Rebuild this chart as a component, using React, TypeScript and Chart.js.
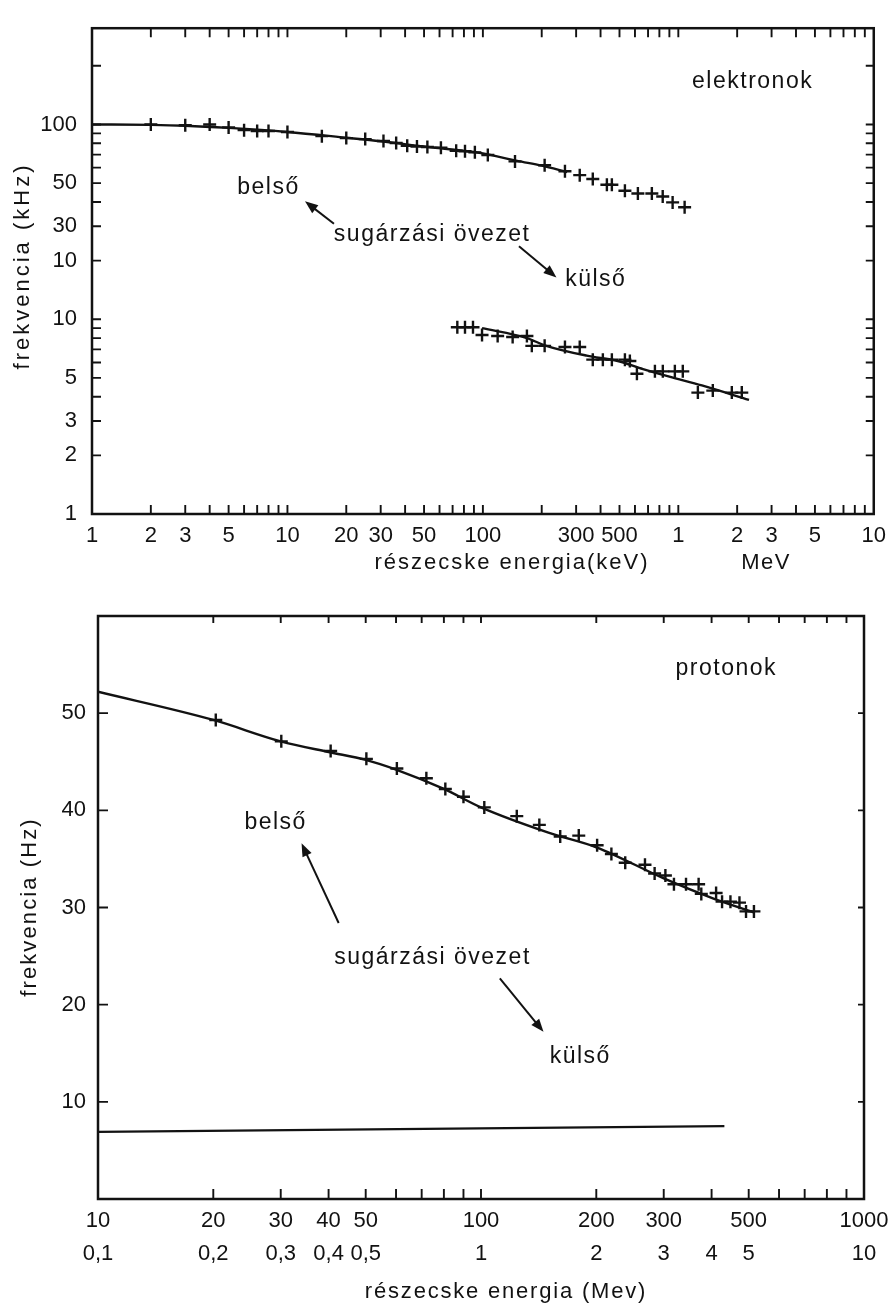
import React, { useEffect, useRef } from 'react';
import { Chart, registerables } from 'chart.js';

Chart.register(...registerables);

const INK = '#121212';
const FONT = "'Liberation Sans', Arial, 'DejaVu Sans', sans-serif";

// ---------------- top panel: elektronok ----------------
const topXTicks = [1, 2, 3, 5, 10, 20, 30, 50, 100, 300, 500, 1000, 2000, 3000, 5000, 10000];
const topXLabels = ['1', '2', '3', '5', '10', '20', '30', '50', '100', '300', '500', '1', '2', '3', '5', '10'];
const topYTicks = [1, 2, 3, 5, 10, 20, 30, 50, 100];
const topYLabels = ['1', '2', '3', '5', '10', '10', '30', '50', '100'];
const topXMinor = [2, 3, 4, 5, 6, 7, 8, 9, 10, 20, 30, 40, 50, 60, 70, 80, 90, 100, 200, 300, 400, 500, 600, 700, 800, 900, 1000, 2000, 3000, 4000, 5000, 6000, 7000, 8000, 9000];
const topYMinor = [2, 3, 4, 5, 6, 7, 8, 9, 10, 20, 30, 40, 50, 60, 70, 80, 90, 100, 200];

// belső (inner belt) electrons: keV -> kHz
const innerX = [2, 3, 4, 5, 6, 7, 8, 10, 15, 20, 25, 31, 36, 41, 46, 52, 61, 73, 81, 91, 106, 146, 207, 263, 313, 365, 431, 457, 533, 621, 732, 832, 935, 1077];
const innerY = [100, 99, 100, 96.6, 93.5, 92.5, 92.5, 91.4, 87.1, 85.1, 84.1, 82.2, 80.3, 77.8, 77.0, 76.6, 75.9, 73.3, 72.8, 71.9, 69.7, 64.6, 61.7, 57.5, 54.9, 52.5, 49, 49, 45.7, 44.2, 44.2, 42.7, 39.8, 37.6];
const innerCurveX = [1, 2, 3, 5, 10, 20, 30, 50, 100, 150, 200, 270];
const innerCurveY = [100, 99.5, 98.5, 96, 91.5, 85.5, 82, 77, 71, 65, 61.5, 57];

// külső (outer belt) electrons
const outerX = [74, 81, 89, 99, 119, 142, 168, 178, 207, 263, 313, 365, 411, 457, 533, 565, 614, 759, 833, 960, 1054, 1259, 1501, 1878, 2112];
const outerY = [9.1, 9.1, 9.1, 8.3, 8.2, 8.1, 8.2, 7.3, 7.3, 7.2, 7.2, 6.2, 6.2, 6.2, 6.2, 6.1, 5.25, 5.4, 5.4, 5.4, 5.4, 4.2, 4.3, 4.2, 4.2];
const outerCurveX = [99, 168, 207, 340, 490, 660, 900, 1320, 2300];
const outerCurveY = [9.0, 8.0, 7.35, 6.5, 6.1, 5.55, 5.07, 4.57, 3.85];

const topNoteText = ['elektronok', 'belső', 'sugárzási övezet', 'külső'];
const topNoteX = [2400, 8, 55, 378];
const topNoteY = [166, 47.3, 27.2, 16.0];
const topArrowFromX = [17.3, 153];
const topArrowFromY = [30.9, 23.7];
const topArrowToX = [12.3, 238];
const topArrowToY = [40.3, 16.4];

// ---------------- bottom panel: protonok ----------------
const botXTicks = [10, 20, 30, 40, 50, 100, 200, 300, 400, 500, 1000];
const botXLabelsRow1 = ['10', '20', '30', '40', '50', '100', '200', '300', '', '500', '1000'];
const botXLabelsRow2 = ['0,1', '0,2', '0,3', '0,4', '0,5', '1', '2', '3', '4', '5', '10'];
const botYTicks = [10, 20, 30, 40, 50];
const botYLabels = ['10', '20', '30', '40', '50'];
const botXMinor = [20, 30, 40, 50, 60, 70, 80, 90, 100, 200, 300, 400, 500, 600, 700, 800, 900];
const botYMinor = [10, 20, 30, 40, 50];

const protonX = [20.3, 30.1, 40.5, 50.2, 60.3, 72, 80.7, 90, 102, 124, 142, 161, 180, 201, 219, 238, 268, 284, 303, 319, 343, 370, 376, 411, 426, 448, 473, 492, 516];
const protonY = [49.3, 47.1, 46.1, 45.3, 44.3, 43.3, 42.2, 41.4, 40.3, 39.4, 38.5, 37.3, 37.4, 36.4, 35.5, 34.6, 34.4, 33.5, 33.3, 32.4, 32.4, 32.4, 31.4, 31.5, 30.6, 30.6, 30.5, 29.6, 29.6];
const protonCurveX = [10, 20, 30, 40, 50, 60, 80, 100, 150, 200, 300, 400, 515];
const protonCurveY = [52.2, 49.3, 47.1, 46.0, 45.2, 44.2, 42.2, 40.3, 37.7, 36.2, 33.0, 31.0, 29.5];
const flatX = [10, 432];
const flatY = [6.9, 7.5];

const botNoteText = ['protonok', 'belső', 'sugárzási övezet', 'külső'];
const botNoteX = [437, 29.1, 74.7, 181.6];
const botNoteY = [54.6, 38.7, 24.8, 14.6];
const botArrowFromX = [42.5, 112];
const botArrowFromY = [28.4, 22.7];
const botArrowToX = [34, 145.6];
const botArrowToY = [36.6, 17.2];

const pts = (xs: number[], ys: number[]) => xs.map((x, i) => ({ x, y: ys[i] }));

function drawArrow(ctx: any, x1: number, y1: number, x2: number, y2: number) {
  const ang = Math.atan2(y2 - y1, x2 - x1);
  const L = 13;
  const W = 5;
  const c = Math.cos(ang);
  const s = Math.sin(ang);
  ctx.beginPath();
  ctx.moveTo(x1, y1);
  ctx.lineTo(x2 - c * L * 0.6, y2 - s * L * 0.6);
  ctx.stroke();
  ctx.beginPath();
  ctx.moveTo(x2, y2);
  ctx.lineTo(x2 - L * c + W * s, y2 - L * s - W * c);
  ctx.lineTo(x2 - L * c - W * s, y2 - L * s + W * c);
  ctx.closePath();
  ctx.fill();
}

type Title = { text: string; x: number; y: number; rotate?: boolean; spacing: number };

function decor(opts: {
  xMinor: number[];
  yMinor: number[];
  tickBottom: number;
  tickTop: number;
  tickLeft: number;
  tickRight: number;
  notes: { text: string[]; x: number[]; y: number[] };
  arrows: { fx: number[]; fy: number[]; tx: number[]; ty: number[] };
  titles: Title[];
}) {
  return {
    id: 'decor',
    afterDraw(chart: any) {
      const { ctx, chartArea: a, scales } = chart;
      const sx = scales.x;
      const sy = scales.y;
      ctx.save();
      ctx.strokeStyle = INK;
      ctx.fillStyle = INK;
      ctx.lineCap = 'butt';
      ctx.lineWidth = 2.5;
      ctx.strokeRect(a.left, a.top, a.right - a.left, a.bottom - a.top);
      ctx.lineWidth = 1.9;
      ctx.beginPath();
      for (const v of opts.xMinor) {
        const px = sx.getPixelForValue(v);
        ctx.moveTo(px, a.bottom);
        ctx.lineTo(px, a.bottom - opts.tickBottom);
        ctx.moveTo(px, a.top);
        ctx.lineTo(px, a.top + opts.tickTop);
      }
      for (const v of opts.yMinor) {
        const py = sy.getPixelForValue(v);
        ctx.moveTo(a.left, py);
        ctx.lineTo(a.left + opts.tickLeft, py);
        ctx.moveTo(a.right, py);
        ctx.lineTo(a.right - opts.tickRight, py);
      }
      ctx.stroke();

      ctx.font = `23px ${FONT}`;
      ctx.textAlign = 'center';
      ctx.textBaseline = 'middle';
      (ctx as any).letterSpacing = '1.5px';
      opts.notes.text.forEach((t, i) => {
        ctx.fillText(t, sx.getPixelForValue(opts.notes.x[i]), sy.getPixelForValue(opts.notes.y[i]));
      });
      ctx.lineWidth = 2;
      opts.arrows.fx.forEach((_, i) => {
        drawArrow(
          ctx,
          sx.getPixelForValue(opts.arrows.fx[i]),
          sy.getPixelForValue(opts.arrows.fy[i]),
          sx.getPixelForValue(opts.arrows.tx[i]),
          sy.getPixelForValue(opts.arrows.ty[i])
        );
      });

      for (const t of opts.titles) {
        ctx.save();
        (ctx as any).letterSpacing = `${t.spacing}px`;
        ctx.font = `22px ${FONT}`;
        ctx.translate(t.x, t.y);
        if (t.rotate) ctx.rotate(-Math.PI / 2);
        ctx.fillText(t.text, 0, 0);
        ctx.restore();
      }
      ctx.restore();
    },
  };
}

const tickFont = { family: FONT, size: 22 };

function makeTop(canvas: HTMLCanvasElement) {
  return new Chart(canvas, {
    type: 'scatter',
    data: {
      datasets: [
        {
          data: pts(innerX, innerY),
          pointStyle: 'cross',
          pointRadius: 6.5,
          borderWidth: 2.4,
          borderColor: INK,
          backgroundColor: INK,
        },
        {
          data: pts(outerX, outerY),
          pointStyle: 'cross',
          pointRadius: 6.5,
          borderWidth: 2.4,
          borderColor: INK,
          backgroundColor: INK,
        },
        {
          data: pts(innerCurveX, innerCurveY),
          showLine: true,
          pointRadius: 0,
          borderWidth: 2.4,
          borderColor: INK,
          cubicInterpolationMode: 'monotone',
        },
        {
          data: pts(outerCurveX, outerCurveY),
          showLine: true,
          pointRadius: 0,
          borderWidth: 2.4,
          borderColor: INK,
          cubicInterpolationMode: 'monotone',
        },
      ],
    } as any,
    options: {
      responsive: false,
      animation: false,
      events: [],
      layout: { padding: { top: 15, right: 19, left: 0, bottom: 0 } },
      plugins: { legend: { display: false }, tooltip: { enabled: false } },
      scales: {
        x: {
          type: 'logarithmic',
          min: 1,
          max: 10000,
          afterFit: (s: any) => {
            s.height = 76;
          },
          afterBuildTicks: (s: any) => {
            s.ticks = topXTicks.map((v) => ({ value: v }));
          },
          ticks: {
            autoSkip: false,
            maxRotation: 0,
            minRotation: 0,
            padding: 9,
            color: INK,
            font: tickFont,
            callback: (_v: any, i: number) => topXLabels[i],
          },
          grid: { display: false, drawTicks: false },
          border: { display: false },
        },
        y: {
          type: 'logarithmic',
          min: 1,
          max: 312,
          afterFit: (s: any) => {
            s.width = 92;
          },
          afterBuildTicks: (s: any) => {
            s.ticks = topYTicks.map((v) => ({ value: v }));
          },
          ticks: {
            autoSkip: false,
            padding: 15,
            color: INK,
            font: tickFont,
            callback: (_v: any, i: number) => topYLabels[i],
          },
          grid: { display: false, drawTicks: false },
          border: { display: false },
        },
      },
    } as any,
    plugins: [
      decor({
        xMinor: topXMinor,
        yMinor: topYMinor,
        tickBottom: 9,
        tickTop: 9,
        tickLeft: 9,
        tickRight: 8,
        notes: { text: topNoteText, x: topNoteX, y: topNoteY },
        arrows: { fx: topArrowFromX, fy: topArrowFromY, tx: topArrowToX, ty: topArrowToY },
        titles: [
          { text: 'frekvencia (kHz)', x: 23, y: 266, rotate: true, spacing: 3 },
          { text: 'részecske energia(keV)', x: 512, y: 563, spacing: 2 },
          { text: 'MeV', x: 766, y: 563, spacing: 1.5 },
        ],
      }),
    ],
  });
}

function makeBottom(canvas: HTMLCanvasElement) {
  return new Chart(canvas, {
    type: 'scatter',
    data: {
      datasets: [
        {
          data: pts(protonX, protonY),
          pointStyle: 'cross',
          pointRadius: 6.5,
          borderWidth: 2.4,
          borderColor: INK,
          backgroundColor: INK,
        },
        {
          data: pts(protonCurveX, protonCurveY),
          showLine: true,
          pointRadius: 0,
          borderWidth: 2.4,
          borderColor: INK,
          cubicInterpolationMode: 'monotone',
        },
        {
          data: pts(flatX, flatY),
          showLine: true,
          pointRadius: 0,
          borderWidth: 2.2,
          borderColor: INK,
        },
      ],
    } as any,
    options: {
      responsive: false,
      animation: false,
      events: [],
      layout: { padding: { top: 26, right: 31, left: 0, bottom: 0 } },
      plugins: { legend: { display: false }, tooltip: { enabled: false } },
      scales: {
        x: {
          type: 'logarithmic',
          min: 10,
          max: 1000,
          afterFit: (s: any) => {
            s.height = 109;
          },
          afterBuildTicks: (s: any) => {
            s.ticks = botXTicks.map((v) => ({ value: v }));
          },
          ticks: {
            autoSkip: false,
            maxRotation: 0,
            minRotation: 0,
            padding: 5,
            color: INK,
            font: { family: FONT, size: 22, lineHeight: 1.5 },
            callback: (_v: any, i: number) => [botXLabelsRow1[i], botXLabelsRow2[i]],
          },
          grid: { display: false, drawTicks: false },
          border: { display: false },
        },
        y: {
          type: 'linear',
          min: 0,
          max: 60,
          afterFit: (s: any) => {
            s.width = 98;
          },
          afterBuildTicks: (s: any) => {
            s.ticks = botYTicks.map((v) => ({ value: v }));
          },
          ticks: {
            autoSkip: false,
            padding: 12,
            color: INK,
            font: tickFont,
            callback: (_v: any, i: number) => botYLabels[i],
          },
          grid: { display: false, drawTicks: false },
          border: { display: false },
        },
      },
    } as any,
    plugins: [
      decor({
        xMinor: botXMinor,
        yMinor: botYMinor,
        tickBottom: 10,
        tickTop: 7,
        tickLeft: 10,
        tickRight: 6,
        notes: { text: botNoteText, x: botNoteX, y: botNoteY },
        arrows: { fx: botArrowFromX, fy: botArrowFromY, tx: botArrowToX, ty: botArrowToY },
        titles: [
          { text: 'frekvencia (Hz)', x: 30, y: 317, rotate: true, spacing: 2.1 },
          { text: 'részecske energia (Mev)', x: 506, y: 702, spacing: 1.8 },
        ],
      }),
    ],
  });
}

export default function App() {
  const topRef = useRef<HTMLCanvasElement | null>(null);
  const botRef = useRef<HTMLCanvasElement | null>(null);

  useEffect(() => {
    if (!topRef.current || !botRef.current) return;
    const c1 = makeTop(topRef.current);
    const c2 = makeBottom(botRef.current);
    return () => {
      c1.destroy();
      c2.destroy();
    };
  }, []);

  return (
    <div style={{ position: 'absolute', left: 0, top: 0, width: 895, height: 1308, background: '#ffffff' }}>
      <canvas
        ref={topRef}
        width={895}
        height={590}
        style={{ position: 'absolute', left: 0, top: 0, width: 895, height: 590, display: 'block' }}
      />
      <canvas
        ref={botRef}
        width={895}
        height={718}
        style={{ position: 'absolute', left: 0, top: 590, width: 895, height: 718, display: 'block' }}
      />
    </div>
  );
}
